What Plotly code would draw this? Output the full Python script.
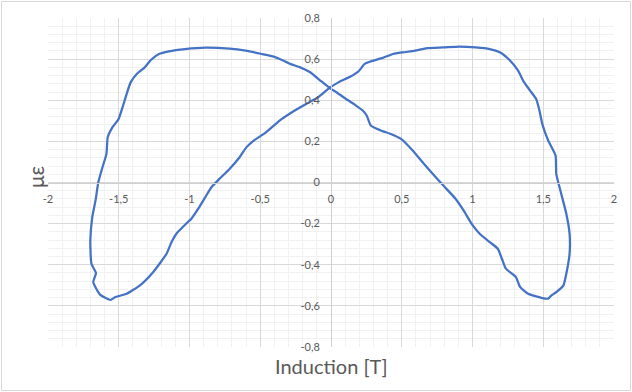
import plotly.graph_objects as go

# ---- data ----
induction_T = [
    -1.558, -1.527, -1.444, -1.350, -1.256, -1.161, -1.126, -1.090, -1.008,
    -0.988, -0.931, -0.888, -0.845, -0.788, -0.717, -0.646, -0.597, -0.546,
    -0.475, -0.404, -0.347, -0.276, -0.176, -0.090, -0.010, 0.052, 0.138,
    0.195, 0.238, 0.281, 0.366, 0.438, 0.509, 0.594, 0.680, 0.794, 0.908,
    1.022, 1.122, 1.193, 1.265, 1.322, 1.364, 1.407, 1.450, 1.473, 1.493,
    1.535, 1.587, 1.592, 1.621, 1.663, 1.686, 1.686, 1.663, 1.643, 1.592,
    1.558, 1.535, 1.493, 1.450, 1.393, 1.336, 1.307, 1.236, 1.208, 1.179,
    1.122, 1.051, 0.994, 0.937, 0.880, 0.794, 0.709, 0.637, 0.566, 0.495,
    0.423, 0.352, 0.281, 0.252, 0.224, 0.167, 0.096, 0.038, -0.010, -0.076,
    -0.147, -0.218, -0.290, -0.347, -0.404, -0.489, -0.603, -0.717, -0.888,
    -1.031, -1.145, -1.216, -1.273, -1.316, -1.373, -1.416, -1.444, -1.473,
    -1.501, -1.544, -1.578, -1.587, -1.615, -1.644, -1.664, -1.687, -1.701,
    -1.693, -1.661, -1.680, -1.632, -1.558,
]
strain_me = [
    -0.571, -0.558, -0.541, -0.500, -0.435, -0.345, -0.288, -0.247, -0.190,
    -0.177, -0.120, -0.071, -0.023, 0.018, 0.066, 0.123, 0.172, 0.204,
    0.236, 0.277, 0.309, 0.342, 0.382, 0.415, 0.460, 0.487, 0.515,
    0.541, 0.577, 0.589, 0.606, 0.625, 0.633, 0.641, 0.654, 0.657, 0.661,
    0.657, 0.649, 0.633, 0.593, 0.544, 0.488, 0.447, 0.406, 0.350, 0.285,
    0.204, 0.131, 0.042, -0.039, -0.152, -0.249, -0.347, -0.444, -0.500, -0.533,
    -0.549, -0.565, -0.562, -0.554, -0.541, -0.508, -0.460, -0.419, -0.371, -0.322,
    -0.290, -0.249, -0.201, -0.136, -0.079, -0.015, 0.050, 0.107, 0.164, 0.212,
    0.236, 0.253, 0.277, 0.326, 0.350, 0.379, 0.411, 0.439, 0.460, 0.496,
    0.536, 0.560, 0.577, 0.596, 0.612, 0.625, 0.641, 0.651, 0.656,
    0.649, 0.638, 0.625, 0.596, 0.560, 0.528, 0.487, 0.431, 0.366,
    0.309, 0.269, 0.220, 0.139, 0.074, 0.002, -0.087, -0.168, -0.282,
    -0.395, -0.440, -0.484, -0.545, -0.571,
]

x_tickvals = [-2, -1.5, -1, -0.5, 0, 0.5, 1, 1.5, 2]
x_ticktext = ["-2", "-1,5", "-1", "-0,5", "0", "0,5", "1", "1,5", "2"]
y_tickvals = [-0.8, -0.6, -0.4, -0.2, 0, 0.2, 0.4, 0.6, 0.8]
y_ticktext = ["-0,8", "-0,6", "-0,4", "-0,2", "0", "0,2", "0,4", "0,6", "0,8"]

x_title = "Induction [T]"
y_title = "με"

# ---- figure ----
W, H = 632, 392
ML, MR, MT, MB = 48, 18, 18, 45
PW, PH = W - ML - MR, H - MT - MB

FONT = "Lato"
GRAY = "#595959"

fig = go.Figure()
fig.add_trace(go.Scatter(
    x=induction_T, y=strain_me, mode="lines",
    line=dict(color="#4472C4", width=2.25, shape="spline", smoothing=0.5),
    hoverinfo="skip", showlegend=False,
))

axis_common = dict(
    showgrid=True, gridcolor="#D9D9D9", gridwidth=1,
    zeroline=False, showline=True, linecolor="#D0D0D0", linewidth=1,
    ticks="outside", tickcolor="rgba(0,0,0,0)",
    tickfont=dict(family=FONT, size=11, color=GRAY),
    anchor="free", position=0.5, fixedrange=True, automargin=False,
)

fig.update_layout(
    width=W, height=H,
    margin=dict(l=ML, r=MR, t=MT, b=MB, autoexpand=False),
    paper_bgcolor="white", plot_bgcolor="white",
    xaxis=dict(
        range=[-2, 2], tickvals=x_tickvals, ticktext=x_ticktext, ticklen=6,
        minor=dict(tick0=0, dtick=0.1, showgrid=True, gridcolor="#F1F1F1", gridwidth=1),
        **axis_common,
    ),
    yaxis=dict(
        range=[-0.8, 0.8], tickvals=y_tickvals, ticktext=y_ticktext, ticklen=9,
        minor=dict(tick0=0, dtick=0.04, showgrid=True, gridcolor="#F1F1F1", gridwidth=1),
        **axis_common,
    ),
    annotations=[
        dict(text=x_title, xref="paper", yref="paper", x=0.5, y=-(366 - (MT + PH)) / PH,
             xanchor="center", yanchor="middle", showarrow=False,
             font=dict(family=FONT, size=20, color=GRAY)),
        dict(text=y_title, xref="paper", yref="paper", x=(35 - ML) / PW, y=(MT + PH - 177) / PH,
             xanchor="center", yanchor="middle", showarrow=False, textangle=-90,
             font=dict(family=FONT, size=21, color=GRAY)),
    ],
    shapes=[
        dict(type="rect", xref="paper", yref="paper",
             x0=-(ML - 1.5) / PW, x1=1 + (MR - 1.5) / PW,
             y0=-(MB - 1.5) / PH, y1=1 + (MT - 1.5) / PH,
             line=dict(color="#D9D9D9", width=1), layer="below"),
    ],
)

fig.write_html("out.html", config={"displayModeBar": False, "staticPlot": True},
               post_script="document.body.style.margin='0';")
